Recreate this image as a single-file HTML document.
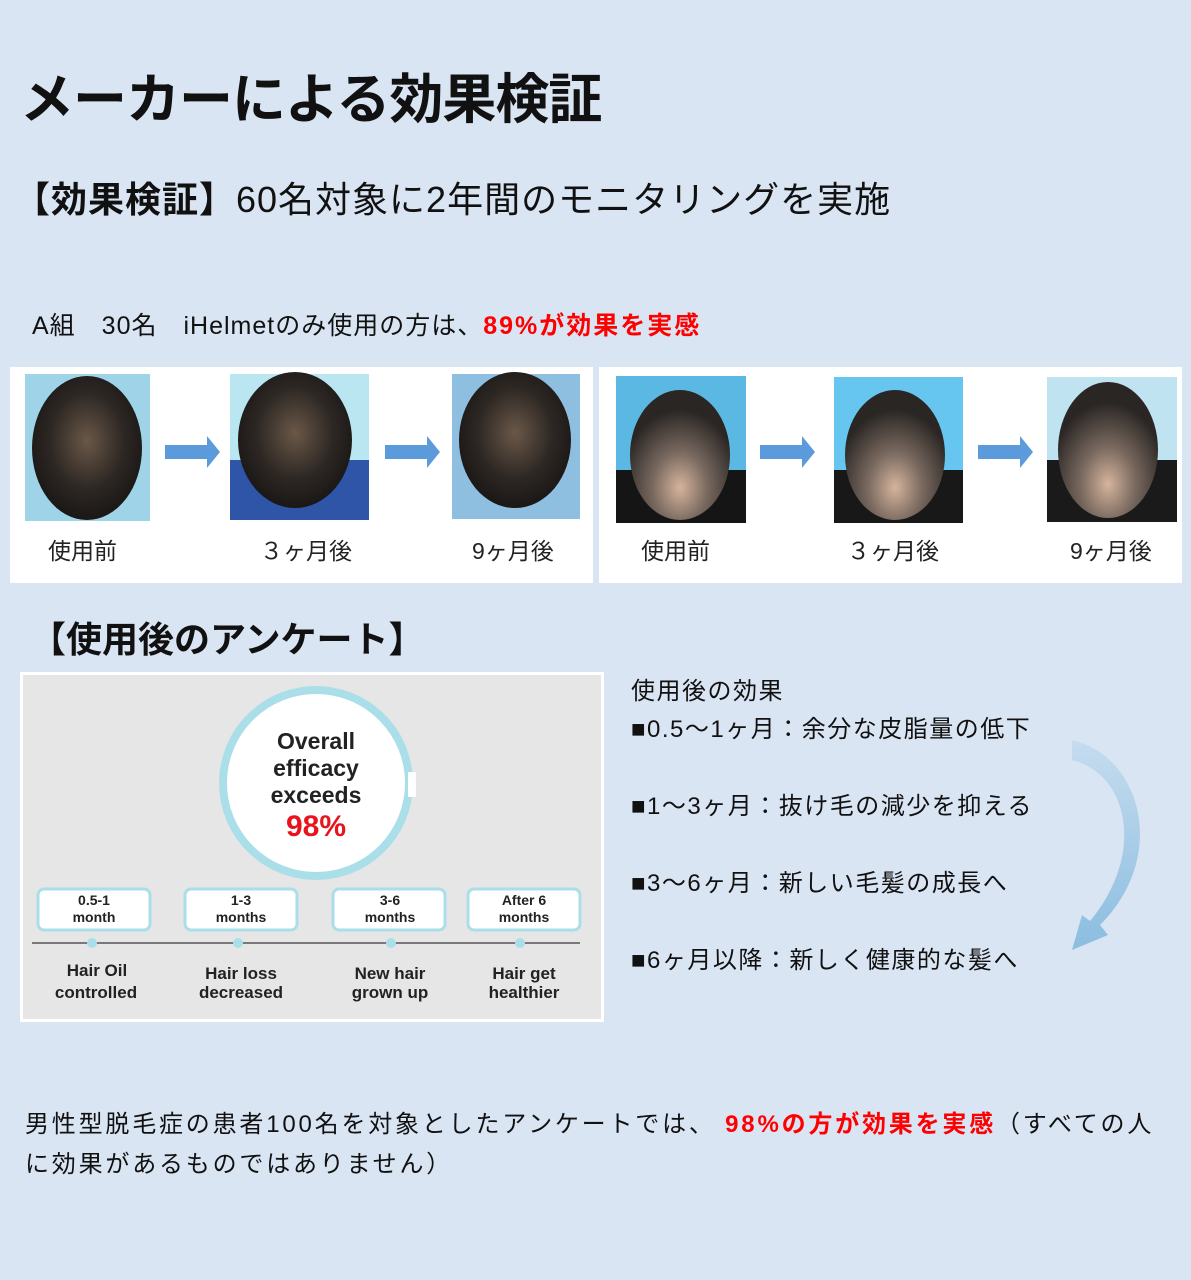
<!DOCTYPE html>
<html><head><meta charset="utf-8"><style>
body{margin:0;width:1191px;height:1280px;background:#dae5f4;font-family:"Liberation Sans","Noto Sans CJK JP",sans-serif;position:relative;overflow:hidden;color:#111}
.a{position:absolute;white-space:nowrap}
.panel{position:absolute;background:#fff}
.cap{position:absolute;font-size:23px;color:#222;line-height:30px}
</style></head><body>
<div class="a" style="left:20px;top:58px;font-size:54px;font-weight:bold;letter-spacing:-1px;line-height:74px;font-family:'Noto Sans CJK JP',sans-serif">メーカーによる効果検証</div>
<div class="a" style="left:14px;top:174px;font-size:36px;line-height:52px;letter-spacing:1px"><b>【効果検証】</b>60名対象に2年間のモニタリングを実施</div>
<div class="a" style="left:32px;top:308px;font-size:25px;line-height:36px;letter-spacing:1px">A組　30名　iHelmetのみ使用の方は、<b style="color:#f00;letter-spacing:2px">89%が効果を実感</b></div>

<div class="panel" style="left:10px;top:367px;width:583px;height:216px"></div>
<div class="panel" style="left:599px;top:367px;width:583px;height:216px"></div>

<svg class="a" style="left:0;top:0" width="1191" height="600">
<defs>
<radialGradient id="h1" cx="50%" cy="45%" r="55%"><stop offset="0" stop-color="#6a5848"/><stop offset="0.6" stop-color="#2e2824"/><stop offset="1" stop-color="#1a1716"/></radialGradient>
<radialGradient id="h2" cx="50%" cy="75%" r="60%"><stop offset="0" stop-color="#d6b49c"/><stop offset="0.45" stop-color="#7a6a60"/><stop offset="1" stop-color="#2a2624"/></radialGradient>
</defs>
<rect x="25" y="374" width="125" height="147" fill="#9fd4e8"/><ellipse cx="87" cy="448" rx="55" ry="72" fill="url(#h1)"/>
<rect x="230" y="374" width="139" height="146" fill="#b9e6f0"/><rect x="230" y="460" width="139" height="60" fill="#2f55a8"/><ellipse cx="295" cy="440" rx="57" ry="68" fill="url(#h1)"/>
<rect x="452" y="374" width="128" height="145" fill="#8fbfe0"/><ellipse cx="515" cy="440" rx="56" ry="68" fill="url(#h1)"/>
<rect x="616" y="376" width="130" height="147" fill="#5bb8e2"/><rect x="616" y="470" width="130" height="53" fill="#151515"/><ellipse cx="680" cy="455" rx="50" ry="65" fill="url(#h2)"/>
<rect x="834" y="377" width="129" height="146" fill="#66c6ef"/><rect x="834" y="470" width="129" height="53" fill="#181818"/><ellipse cx="895" cy="455" rx="50" ry="65" fill="url(#h2)"/>
<rect x="1047" y="377" width="130" height="145" fill="#bfe3f0"/><rect x="1047" y="460" width="130" height="62" fill="#1a1a1a"/><ellipse cx="1108" cy="450" rx="50" ry="68" fill="url(#h2)"/>
<g fill="#5b9bdc">
<path d="M165 445h42v-9l13 16-13 16v-9h-42z"/>
<path d="M385 445h42v-9l13 16-13 16v-9h-42z"/>
<path d="M760 445h42v-9l13 16-13 16v-9h-42z"/>
<path d="M978 445h42v-9l13 16-13 16v-9h-42z"/>
</g>
</svg>
<div class="cap" style="left:48px;top:536px">使用前</div>
<div class="cap" style="left:260px;top:536px">３ヶ月後</div>
<div class="cap" style="left:472px;top:536px">9ヶ月後</div>
<div class="cap" style="left:641px;top:536px">使用前</div>
<div class="cap" style="left:847px;top:536px">３ヶ月後</div>
<div class="cap" style="left:1070px;top:536px">9ヶ月後</div>

<div class="a" style="left:30px;top:614px;font-size:36px;font-weight:bold;line-height:52px">【使用後のアンケート】</div>

<div class="a" style="left:20px;top:672px;width:578px;height:344px;background:#e6e6e6;border:3px solid #fff"></div>
<svg class="a" style="left:20px;top:672px" width="584" height="350" font-family="Liberation Sans,sans-serif" font-weight="bold">
<circle cx="296" cy="111" r="93" fill="#fff" stroke="#aadfe9" stroke-width="8"/>
<rect x="388" y="100" width="8" height="25" fill="#fff"/>
<text x="296" y="77" text-anchor="middle" font-size="23" fill="#222">Overall</text>
<text x="296" y="104" text-anchor="middle" font-size="23" fill="#222">efficacy</text>
<text x="296" y="131" text-anchor="middle" font-size="23" fill="#222">exceeds</text>
<text x="296" y="164" text-anchor="middle" font-size="30" fill="#e8141c">98%</text>
<line x1="12" y1="271" x2="560" y2="271" stroke="#555" stroke-width="1.5"/>
<g fill="#fff" stroke="#aadfe9" stroke-width="3">
<rect x="18" y="217" width="112" height="41" rx="6"/><rect x="165" y="217" width="112" height="41" rx="6"/><rect x="313" y="217" width="112" height="41" rx="6"/><rect x="448" y="217" width="112" height="41" rx="6"/>
</g>
<g fill="#aadfe9"><circle cx="72" cy="271" r="5"/><circle cx="218" cy="271" r="5"/><circle cx="371" cy="271" r="5"/><circle cx="500" cy="271" r="5"/></g>
<g font-size="14" fill="#222" text-anchor="middle">
<text x="74" y="233">0.5-1</text><text x="74" y="250">month</text>
<text x="221" y="233">1-3</text><text x="221" y="250">months</text>
<text x="370" y="233">3-6</text><text x="370" y="250">months</text>
<text x="504" y="233">After 6</text><text x="504" y="250">months</text>
</g>
<g font-size="17" fill="#222" text-anchor="middle">
<text x="77" y="304">Hair Oil</text><text x="76" y="326">controlled</text>
<text x="221" y="307">Hair loss</text><text x="221" y="326">decreased</text>
<text x="370" y="307">New hair</text><text x="370" y="326">grown up</text>
<text x="504" y="307">Hair get</text><text x="504" y="326">healthier</text>
</g>
</svg>

<div class="a" style="left:631px;top:673px;font-size:24px;line-height:38px;letter-spacing:1.5px">使用後の効果<br>■0.5〜1ヶ月：余分な皮脂量の低下</div>
<div class="a" style="left:631px;top:788px;font-size:24px;line-height:38px;letter-spacing:1.5px">■1〜3ヶ月：抜け毛の減少を抑える</div>
<div class="a" style="left:631px;top:865px;font-size:24px;line-height:38px;letter-spacing:1.5px">■3〜6ヶ月：新しい毛髪の成長へ</div>
<div class="a" style="left:631px;top:942px;font-size:24px;line-height:38px;letter-spacing:1.5px">■6ヶ月以降：新しく健康的な髪へ</div>
<svg class="a" style="left:1060px;top:735px" width="100" height="225">
<defs><linearGradient id="g" x1="0" y1="0" x2="0" y2="1"><stop offset="0" stop-color="#c6dcef"/><stop offset="1" stop-color="#8bbde0"/></linearGradient></defs>
<path d="M12 5 C80 20 110 120 40 190 L48 200 L12 215 L22 180 L30 186 C85 120 70 40 12 25 Z" fill="url(#g)"/>
</svg>

<div class="a" style="left:25px;top:1105px;font-size:24px;line-height:40px;letter-spacing:2.8px">男性型脱毛症の患者100名を対象としたアンケートでは、 <b style="color:#f00">98%の方が効果を実感</b>（すべての人<br>に効果があるものではありません）</div>
</body></html>
